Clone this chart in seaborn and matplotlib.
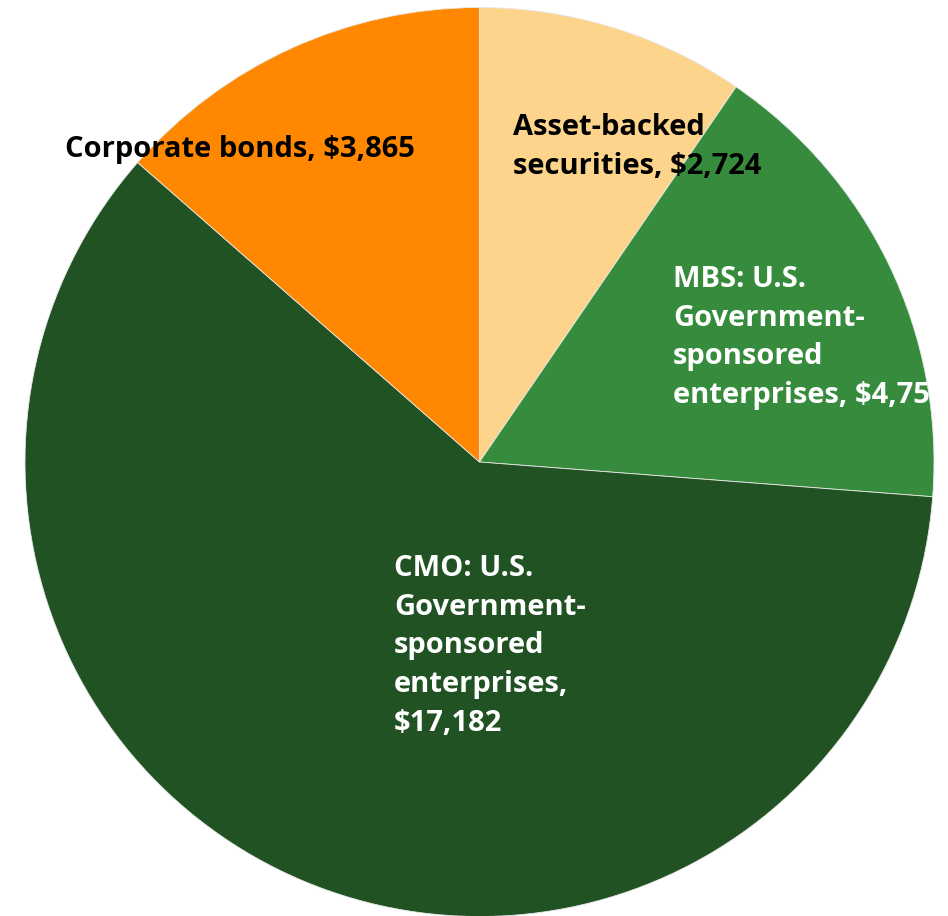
import matplotlib
matplotlib.use('Agg')
import matplotlib.pyplot as plt
import seaborn as sns

# Holdings by type (millions)
categories = ['Asset-backed securities',
              'MBS: U.S. Government-sponsored enterprises',
              'CMO: U.S. Government-sponsored enterprises',
              'Corporate bonds']
values = [2724, 4755, 17182, 3865]
value_labels = ['$2,724', '$4,755', '$17,182', '$3,865']
label_lines = [['Asset-backed', 'securities, ' + value_labels[0]],
               ['MBS: U.S.', 'Government-', 'sponsored', 'enterprises, ' + value_labels[1]],
               ['CMO: U.S.', 'Government-', 'sponsored', 'enterprises,', value_labels[2]],
               ['Corporate bonds, ' + value_labels[3]]]
colors = ['#FCD48C', '#368B3C', '#215223', '#FF8800']
text_colors = ['black', 'white', 'white', 'black']

W, H = 948, 916

sns.set_style("white")
plt.rcParams['font.family'] = ['Open Sans', 'DejaVu Sans']


def px(x, y):
    """pixel coords (top-left origin) -> data coords"""
    return x, H - y


fig = plt.figure(figsize=(W / 100, H / 100), dpi=100)
ax = fig.add_axes([0, 0, 1, 1])

cx, cy = px(479.5, 462)
ax.pie(values, colors=colors, startangle=90, counterclock=False,
       center=(cx, cy), radius=454.5,
       wedgeprops=dict(edgecolor='#e8e8e8', linewidth=0.6))

ax.set_xlim(0, W)
ax.set_ylim(0, H)
ax.set_aspect('equal')
ax.axis('off')

# label anchors: left edge, first-line baseline (pixels)
anchors = [(513, 135), (673, 287), (394, 576), (65, 157)]
line_step = 38.7
for lines, (x, y), c in zip(label_lines, anchors, text_colors):
    for i, line in enumerate(lines):
        tx, ty = px(x, y + i * line_step)
        ax.text(tx, ty, line, color=c, fontsize=21, fontweight='bold',
                ha='left', va='baseline')

fig.savefig('out.png', dpi=100, facecolor='white')
plt.close(fig)
